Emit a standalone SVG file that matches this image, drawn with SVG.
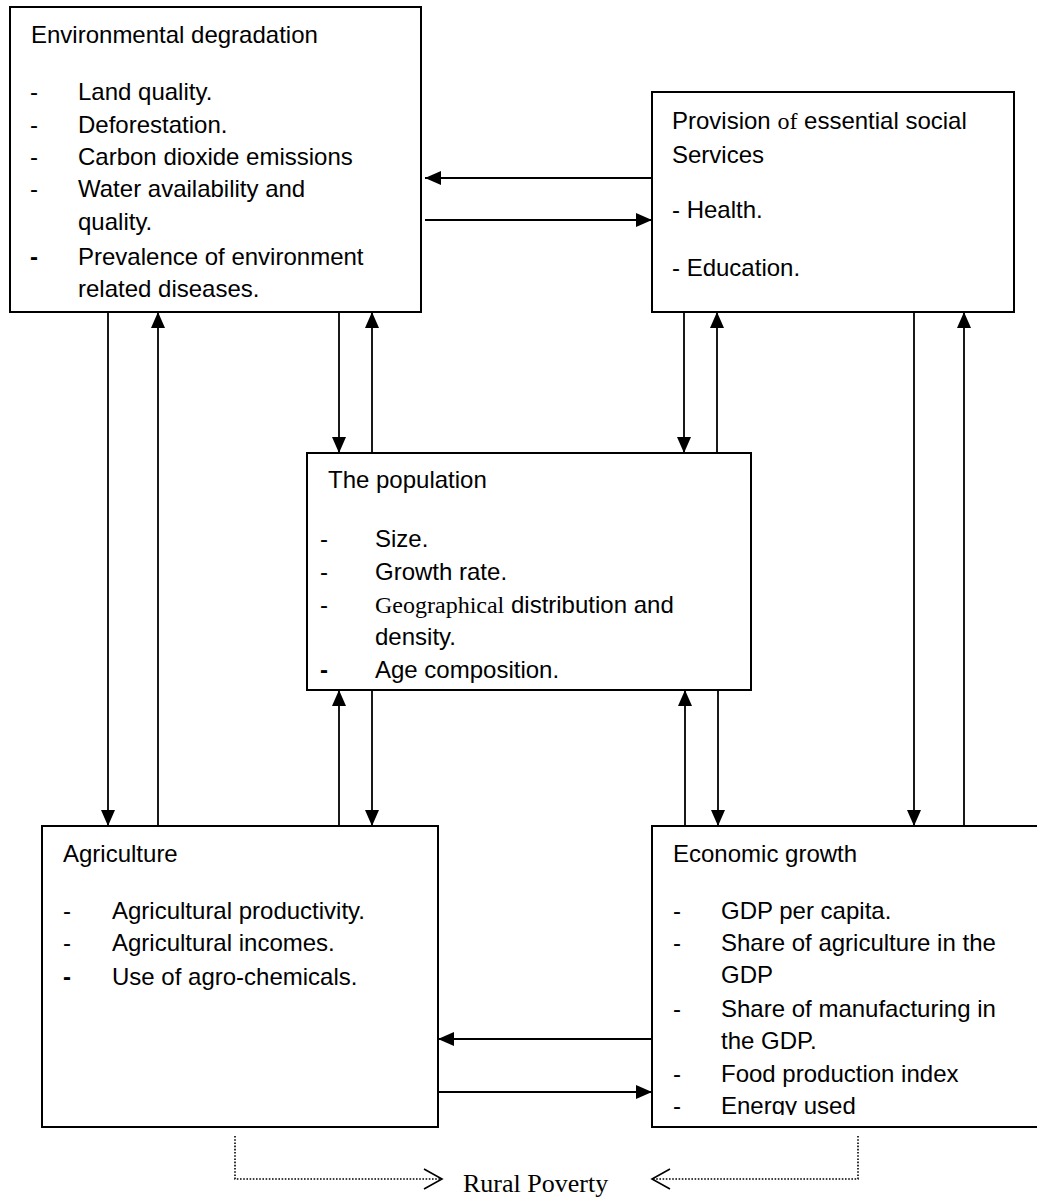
<svg xmlns="http://www.w3.org/2000/svg" width="1037" height="1198" viewBox="0 0 1037 1198">
<style>
.box{fill:#fff;stroke:#000;stroke-width:2}
.t{font-family:"Liberation Sans",Arial,sans-serif;font-size:24px;fill:#000}
.serif{font-family:"Liberation Serif","Times New Roman",serif}
.b{font-weight:bold}
.c{stroke:#000;stroke-width:1.8;fill:none}
.d{stroke:#000;stroke-width:1.6;fill:none;stroke-dasharray:1.6 1.6}
.o{stroke:#000;stroke-width:1.6;fill:none}
.rp{font-family:"Liberation Serif","Times New Roman",serif;font-size:26px;fill:#000}
</style>
<defs>
<marker id="ah" markerWidth="16" markerHeight="14" refX="16" refY="7" orient="auto" markerUnits="userSpaceOnUse">
<path d="M0,0 L16,7 L0,14 Z" fill="#000"/>
</marker>
<clipPath id="econClip"><rect x="652" y="826" width="400" height="289"/></clipPath>
</defs>
<rect width="1037" height="1198" fill="#fff"/>

<g id="connectors">
<line class="c" x1="652" y1="178" x2="425" y2="178" marker-end="url(#ah)"/>
<line class="c" x1="425" y1="220" x2="652" y2="220" marker-end="url(#ah)"/>
<line class="c" x1="339" y1="312" x2="339" y2="453" marker-end="url(#ah)"/>
<line class="c" x1="372" y1="453" x2="372" y2="312" marker-end="url(#ah)"/>
<line class="c" x1="684" y1="312" x2="684" y2="453" marker-end="url(#ah)"/>
<line class="c" x1="717" y1="453" x2="717" y2="312" marker-end="url(#ah)"/>
<line class="c" x1="108" y1="312" x2="108" y2="826" marker-end="url(#ah)"/>
<line class="c" x1="158" y1="826" x2="158" y2="312" marker-end="url(#ah)"/>
<line class="c" x1="339" y1="826" x2="339" y2="690" marker-end="url(#ah)"/>
<line class="c" x1="372" y1="690" x2="372" y2="826" marker-end="url(#ah)"/>
<line class="c" x1="685" y1="826" x2="685" y2="690" marker-end="url(#ah)"/>
<line class="c" x1="718" y1="690" x2="718" y2="826" marker-end="url(#ah)"/>
<line class="c" x1="914" y1="312" x2="914" y2="826" marker-end="url(#ah)"/>
<line class="c" x1="964" y1="826" x2="964" y2="312" marker-end="url(#ah)"/>
<line class="c" x1="652" y1="1039" x2="438" y2="1039" marker-end="url(#ah)"/>
<line class="c" x1="438" y1="1092" x2="652" y2="1092" marker-end="url(#ah)"/>
<polyline class="d" points="235,1136 235,1179 441,1179"/>
<polyline class="o" points="424,1169 442,1179 424,1189"/>
<polyline class="d" points="858,1136 858,1179 653,1179"/>
<polyline class="o" points="670,1169 652,1179 670,1189"/>
</g>

<g id="env">
<rect class="box" x="10" y="7" width="411" height="305"/>
<text class="t" x="31" y="43">Environmental degradation</text>
<text class="t" x="30" y="100">-</text><text class="t" x="78" y="100">Land quality.</text>
<text class="t" x="30" y="133">-</text><text class="t" x="78" y="133">Deforestation.</text>
<text class="t" x="30" y="165">-</text><text class="t" x="78" y="165">Carbon dioxide emissions</text>
<text class="t" x="30" y="197">-</text><text class="t" x="78" y="197">Water availability and</text>
<text class="t" x="78" y="230">quality.</text>
<text class="t b" x="30" y="265">-</text><text class="t" x="78" y="265">Prevalence of environment</text>
<text class="t" x="78" y="297">related diseases.</text>
</g>

<g id="provision">
<rect class="box" x="652" y="92" width="362" height="220"/>
<text class="t" x="672" y="129">Provision <tspan class="serif">of</tspan> essential social</text>
<text class="t" x="672" y="163">Services</text>
<text class="t" x="672" y="218">- Health.</text>
<text class="t" x="672" y="276">- Education.</text>
</g>

<g id="population">
<rect class="box" x="307" y="453" width="444" height="237"/>
<text class="t" x="328" y="488">The population</text>
<text class="t" x="320" y="547">-</text><text class="t" x="375" y="547">Size.</text>
<text class="t" x="320" y="580">-</text><text class="t" x="375" y="580">Growth rate.</text>
<text class="t" x="320" y="613">-</text><text class="t" x="375" y="613"><tspan class="serif">Geographical</tspan> distribution and</text>
<text class="t" x="375" y="645">density.</text>
<text class="t b" x="320" y="678">-</text><text class="t" x="375" y="678">Age composition.</text>
</g>

<g id="agriculture">
<rect class="box" x="42" y="826" width="396" height="301"/>
<text class="t" x="63" y="862">Agriculture</text>
<text class="t" x="63" y="919">-</text><text class="t" x="112" y="919">Agricultural productivity.</text>
<text class="t" x="63" y="951">-</text><text class="t" x="112" y="951">Agricultural incomes.</text>
<text class="t b" x="63" y="985">-</text><text class="t" x="112" y="985">Use of agro-chemicals.</text>
</g>

<g id="economic">
<rect class="box" x="652" y="826" width="400" height="301"/>
<g clip-path="url(#econClip)">
<text class="t" x="673" y="862">Economic growth</text>
<text class="t" x="673" y="919">-</text><text class="t" x="721" y="919">GDP per capita.</text>
<text class="t" x="673" y="951">-</text><text class="t" x="721" y="951">Share of agriculture in the</text>
<text class="t" x="721" y="983">GDP</text>
<text class="t" x="673" y="1017">-</text><text class="t" x="721" y="1017">Share of manufacturing in</text>
<text class="t" x="721" y="1049">the GDP.</text>
<text class="t" x="673" y="1082">-</text><text class="t" x="721" y="1082">Food production index</text>
<text class="t" x="673" y="1114">-</text><text class="t" x="721" y="1114">Energy used</text>
</g>
</g>

<g id="rural">
<text class="rp" x="463" y="1192">Rural Poverty</text>
</g>
</svg>
